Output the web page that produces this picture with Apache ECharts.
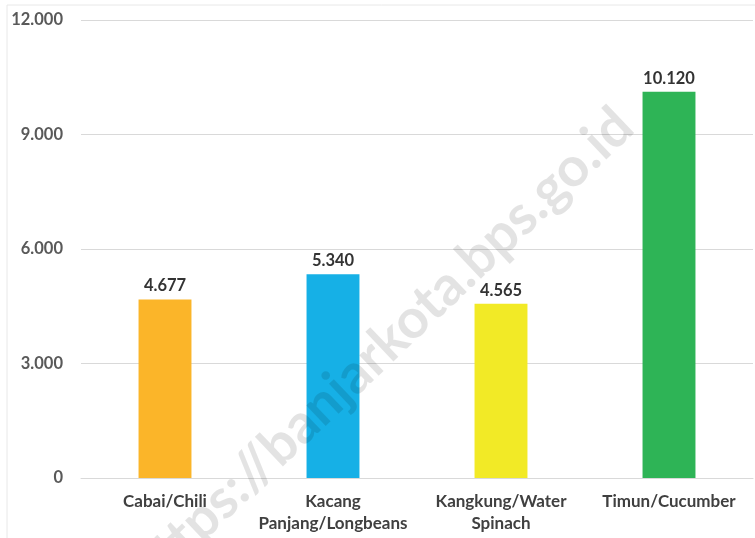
<!DOCTYPE html>
<html>
<head>
<meta charset="utf-8">
<script src="https://cdn.jsdelivr.net/npm/echarts@6/dist/echarts.min.js"></script>
<style>html,body{margin:0;padding:0;background:#fff}#c{width:755px;height:538px}</style>
</head>
<body>
<div id="c"></div>
<script>
const categories = ["Cabai/Chili", "Kacang\nPanjang/Longbeans", "Kangkung/Water\nSpinach", "Timun/Cucumber"];
const values = [4677, 5340, 4565, 10120];
const barColors = ["#FBB529", "#16B0E6", "#F2EA26", "#2EB456"];
const yTicks = { min: 0, max: 12000, interval: 3000 };
const watermark = "https://banjarkota.bps.go.id";

function fmt(v) {
  return String(v).replace(/\B(?=(\d{3})+(?!\d))/g, ".");
}

const chart = echarts.init(document.getElementById('c'), null, { renderer: 'canvas' });
chart.setOption({
  animation: false,
  backgroundColor: '#fff',
  grid: { left: 81, right: 2, top: 20, bottom: 60, containLabel: false },
  xAxis: {
    type: 'category',
    data: categories,
    axisTick: { show: false },
    axisLine: { lineStyle: { color: '#d9d9d9', width: 1 } },
    axisLabel: {
      interval: 0,
      margin: 13,
      fontFamily: 'Lato',
      fontWeight: 'bold',
      fontSize: 17,
      lineHeight: 22,
      color: '#404040'
    }
  },
  yAxis: {
    type: 'value',
    min: yTicks.min,
    max: yTicks.max,
    interval: yTicks.interval,
    axisLine: { show: false },
    axisTick: { show: false },
    splitLine: { lineStyle: { color: '#d9d9d9', width: 1 } },
    axisLabel: {
      margin: 18,
      fontFamily: 'Lato',
      fontWeight: 'bold',
      fontSize: 16.5,
      color: '#595959',
      formatter: fmt
    }
  },
  series: [{
    type: 'bar',
    data: values.map((v, i) => ({ value: v, itemStyle: { color: barColors[i] } })),
    barWidth: '31.5%',
    label: {
      show: true,
      position: 'top',
      distance: 5,
      fontFamily: 'Lato',
      fontWeight: 'bold',
      fontSize: 16.5,
      color: '#333333',
      formatter: p => fmt(p.value)
    }
  }],
  graphic: [
    {
      type: 'rect',
      shape: { x: 7, y: 5, width: 760, height: 560 },
      style: { fill: 'none', stroke: '#e8e8e8', lineWidth: 1 },
      z: -1,
      silent: true
    },
    {
      type: 'text',
      x: 382, y: 348,
      rotation: 43.5 * Math.PI / 180,
      z: 100,
      silent: true,
      style: {
        text: watermark,
        fontFamily: 'Lato',
        fontWeight: 'bold',
        fontSize: 55,
        fill: 'rgba(0,0,0,0.11)',
        align: 'center',
        verticalAlign: 'middle'
      }
    }
  ]
});
</script>
</body>
</html>
